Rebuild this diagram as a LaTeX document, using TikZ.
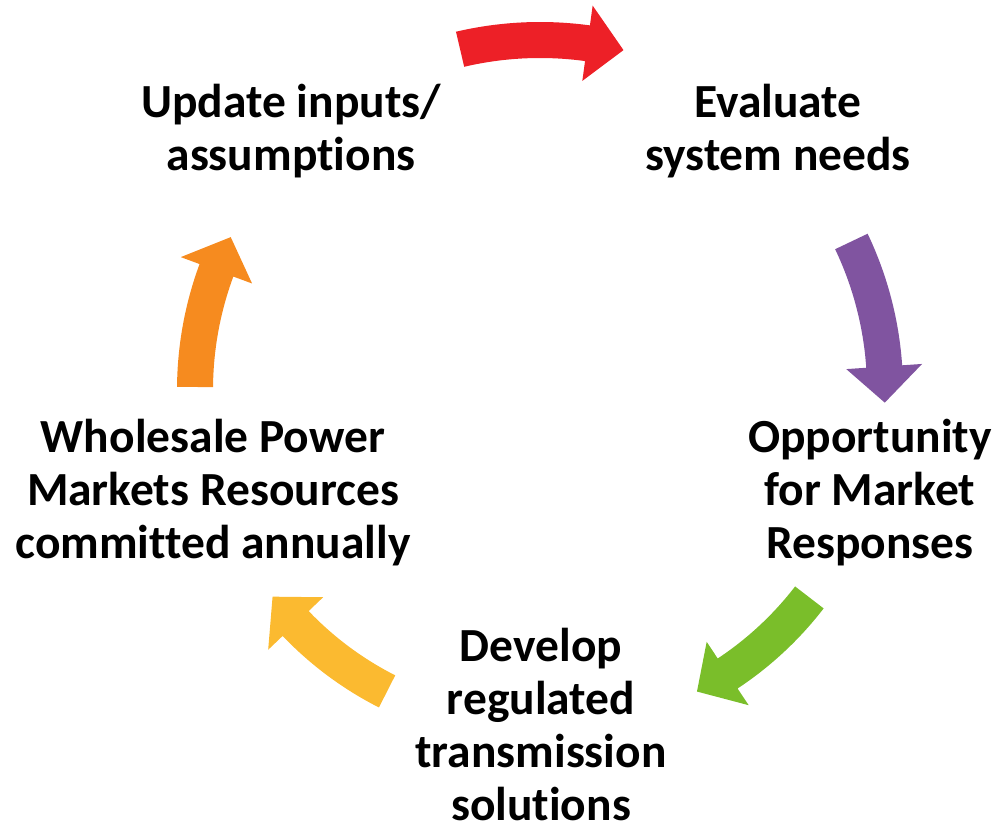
\documentclass[tikz,border=0pt]{standalone}
\usepackage{fontspec}
\setmainfont{Carlito}[RawFeature={-liga;-clig;-calt;-dlig}]
\definecolor{cycred}{RGB}{237,32,39}
\definecolor{cycpurple}{RGB}{128,84,160}
\definecolor{cycgreen}{RGB}{122,190,42}
\definecolor{cycyellow}{RGB}{251,186,48}
\definecolor{cycorange}{RGB}{246,139,31}
\tikzset{
  stage/.style = {align=center, inner sep=0pt, font=\fontsize{47.5}{53}\selectfont\bfseries},
}
\newcommand{\cyclearrow}[4]{%
  \fill[#1] (#2:{#4-18}) arc[start angle=#2, end angle={#3+6}, radius={#4-18}]
    -- ({#3+6}:{#4-38}) -- (#3:#4) -- ({#3+6}:{#4+38})
    -- ({#3+6}:{#4+18}) arc[start angle={#3+6}, end angle=#2, radius={#4+18}] -- cycle;}
\begin{document}
\begin{tikzpicture}[x=1pt, y=1pt]
\useasboundingbox (0,0) rectangle (999,826);
\node[stage] (update) at (291,695) {Update inputs/\\assumptions};
\node[stage] (evaluate) at (778,695) {Evaluate\\system needs};
\node[stage] (market) at (870,333) {Opportunity\\for Market\\Responses};
\node[stage] (develop) at (541,101) {Develop\\regulated\\transmission\\solutions};
\node[stage] (wholesale) at (213,333) {Wholesale Power\\Markets Resources\\committed annually};
\begin{scope}[shift={(540,436)}]
\cyclearrow{cycred}{103.2}{76.2}{350}
\cyclearrow{cycpurple}{25.5}{-2.1}{345}
\cyclearrow{cycgreen}{-37.6}{-62.5}{340}
\cyclearrow{cycyellow}{243.1}{217.7}{338}
\cyclearrow{cycorange}{179.5}{153.7}{345}
\end{scope}
\end{tikzpicture}
\end{document}
